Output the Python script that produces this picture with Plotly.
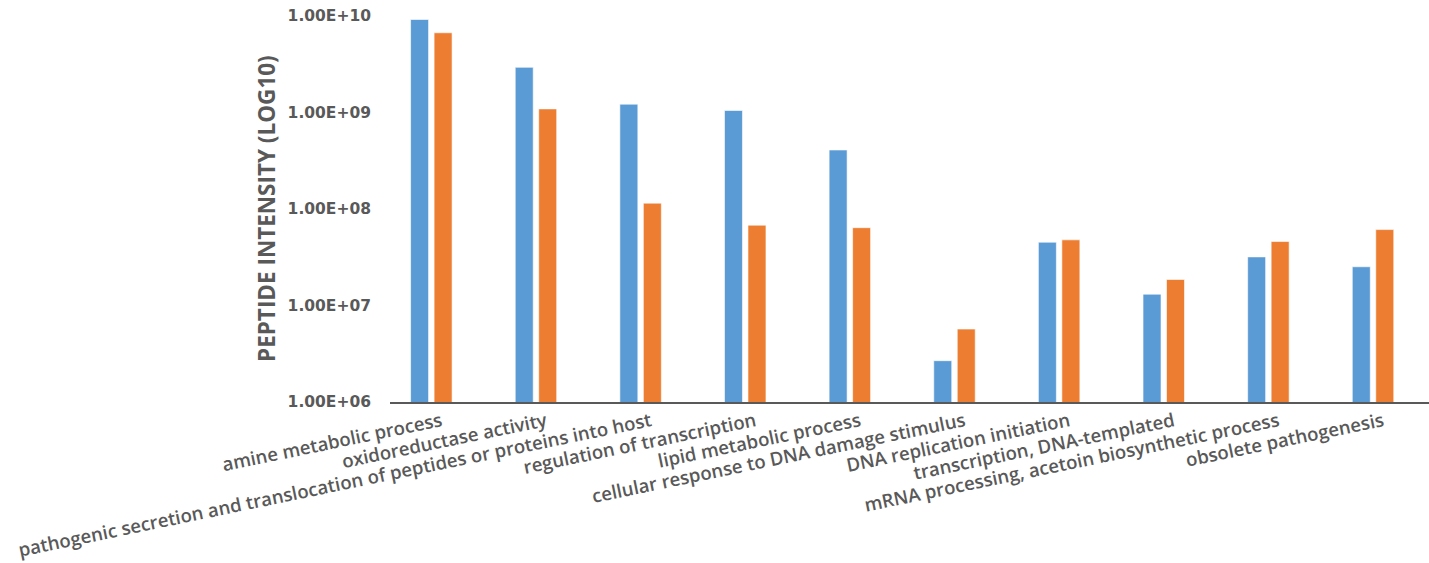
import plotly.graph_objects as go

categories = [
    "amine metabolic process",
    "oxidoreductase activity",
    "pathogenic secretion and translocation of peptides or proteins into host",
    "regulation of transcription",
    "lipid metabolic process",
    "cellular response to DNA damage stimulus",
    "DNA replication initiation",
    "transcription, DNA-templated",
    "mRNA processing, acetoin biosynthetic process",
    "obsolete pathogenesis",
]
series_blue = [9.2e9, 2.94e9, 1.22e9, 1.05e9, 4.09e8, 2.68e6, 4.53e7, 1.31e7, 3.19e7, 2.52e7]
series_orange = [6.7e9, 1.09e9, 1.15e8, 6.8e7, 6.4e7, 5.7e6, 4.79e7, 1.86e7, 4.6e7, 6.12e7]
y_tickvals = [1e6, 1e7, 1e8, 1e9, 1e10]
y_ticktext = ["1.00E+06", "1.00E+07", "1.00E+08", "1.00E+09", "1.00E+10"]
y_title = "PEPTIDE INTENSITY (LOG10)"

W, H = 1429, 563
ML, MR, MT, MB = 390, 0, 16, 161

fig = go.Figure()
fig.add_trace(go.Bar(x=categories, y=series_blue, name="Series 1",
                     marker=dict(color="#5B9BD5", line=dict(color="rgba(255,255,255,0.6)", width=1))))
fig.add_trace(go.Bar(x=categories, y=series_orange, name="Series 2",
                     marker=dict(color="#ED7D31", line=dict(color="rgba(255,255,255,0.6)", width=1))))

fig.update_layout(
    width=W, height=H,
    margin=dict(l=ML, r=MR, t=MT, b=MB, pad=0),
    plot_bgcolor="white", paper_bgcolor="white",
    barmode="group", bargap=0.551, bargroupgap=0.234,
    showlegend=False,
    xaxis=dict(
        type="category", range=[-0.395, 9.535],
        showline=True, linecolor="#595959", linewidth=1.5,
        showgrid=False, ticks="", tickangle=-11.7,
        tickfont=dict(family="Open Sans", size=18.6, color="#595959", weight=600),
        ticklabelstandoff=0, ticklabelshift=10,
        automargin=False,
    ),
    yaxis=dict(
        type="log", range=[6, 10],
        tickvals=y_tickvals, ticktext=y_ticktext,
        showgrid=False, showline=False, zeroline=False, ticks="",
        tickfont=dict(family="DejaVu Sans", size=15.5, color="#595959", weight="bold"),
        ticklabelstandoff=18,
        automargin=False,
    ),
    annotations=[dict(
        text=y_title, textangle=-90, showarrow=False,
        xref="paper", yref="paper", x=(266 - ML) / (W - ML - MR), y=0.5,
        xanchor="center", yanchor="middle",
        font=dict(family="Open Sans", size=22.5, color="#595959", weight=700),
    )],
)

fig.write_html("out.html")
